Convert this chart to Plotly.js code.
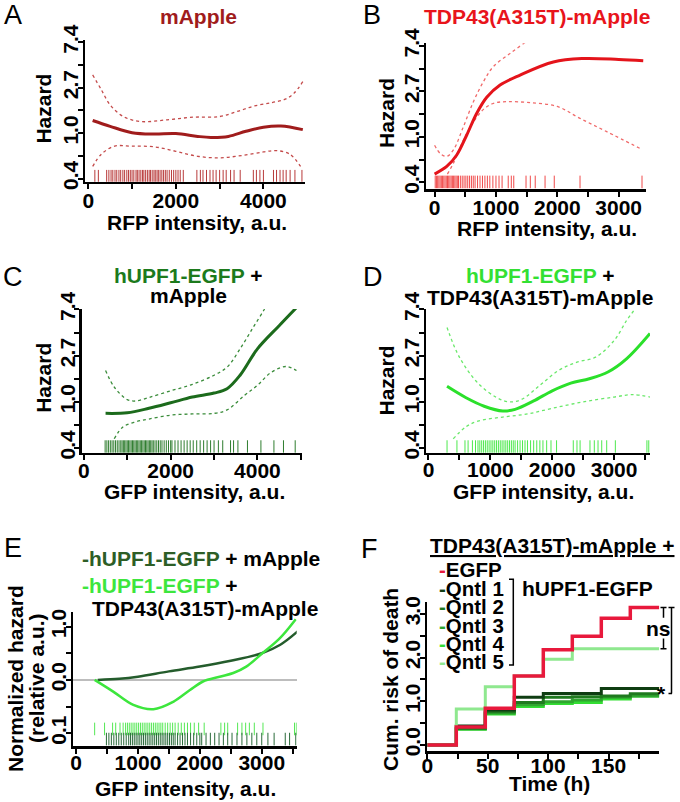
<!DOCTYPE html>
<html><head><meta charset="utf-8">
<script src="https://cdn.plot.ly/plotly-3.0.1.min.js"></script>
<style>html,body{margin:0;padding:0;background:#fff}</style>
</head><body><div id="chart" style="width:680px;height:802px"></div>
<script>
// ================= DATA =================
// Panel A: mApple — hazard vs RFP intensity
const aX   = [100, 500, 1000, 1500, 2000, 2500, 2800, 3200, 3600, 4000, 4400, 4900];
const aHaz = [1.32, 1.16, 1.01, 0.98, 0.99, 0.93, 0.91, 0.93, 1.04, 1.14, 1.17, 1.08];
const aUpX = [100, 300, 500, 800, 1200, 1800, 2400, 3000, 3400, 3800, 4200, 4500, 4700, 4900];
const aUp  = [3.6, 2.59, 1.86, 1.44, 1.29, 1.34, 1.42, 1.44, 1.61, 1.82, 1.96, 2.11, 2.41, 3.1];
const aLoX = [100, 300, 600, 1000, 1500, 2000, 2500, 3000, 3500, 4000, 4300, 4600, 4850];
const aLo  = [0.48, 0.63, 0.75, 0.75, 0.74, 0.67, 0.60, 0.58, 0.61, 0.66, 0.68, 0.63, 0.48];
const aRug = [150, 230, 420, 470, 520, 560, 610, 650, 700, 740, 790, 830, 880, 920, 960, 1000, 1040, 1090, 1120, 1160, 1200, 1240, 1270, 1310, 1350, 1390, 1420, 1460, 1500, 1530, 1570, 1600, 1640, 1680, 1720, 1760, 1800, 1850, 1900, 1950, 2000, 2050, 2100, 2170, 2480, 2560, 2620, 2700, 2780, 2850, 2920, 3000, 3080, 3150, 3250, 3330, 3470, 3770, 3840, 3920, 4000, 4230, 4300, 4380, 4450, 4520, 4610, 4720, 4880];

// Panel B: TDP43(A315T)-mApple — hazard vs RFP intensity
const bX   = [0, 198, 361, 524, 687, 850, 1067, 1393, 1935, 2400, 3000, 3400];
const bHaz = [0.44, 0.52, 0.67, 1.04, 1.68, 2.39, 3.13, 3.9, 5.2, 5.6, 5.5, 5.35];
const bUpX = [0, 94, 198, 307, 470, 633, 796, 958, 1250, 1500, 1600];
const bUp  = [0.83, 0.69, 0.65, 0.75, 1.25, 2.17, 3.37, 4.7, 6.4, 8.2, 9.0];
const bLoX = [209, 307, 470, 633, 796, 958, 1176, 1555, 2000, 2370, 2805, 3375];
const bLo  = [0.44, 0.56, 0.93, 1.39, 1.83, 2.09, 2.17, 2.12, 1.95, 1.5, 1.12, 0.76];
const bRug = [10, 30, 50, 70, 90, 110, 130, 150, 170, 190, 210, 230, 250, 270, 290, 310, 330, 350, 370, 390, 420, 450, 480, 510, 540, 570, 600, 630, 660, 700, 740, 780, 820, 860, 900, 950, 1000, 1050, 1100, 1200, 1250, 1290, 1490, 1560, 1640, 1800, 1950, 2370, 3380];

// Panel C: hUPF1-EGFP + mApple — hazard vs GFP intensity
const cX   = [500, 1000, 1500, 2000, 2500, 3000, 3300, 3600, 4000, 4500, 4900];
const cHaz = [0.78, 0.79, 0.87, 0.98, 1.11, 1.21, 1.33, 1.78, 3.15, 5.2, 7.7];
const cUpX = [500, 700, 1000, 1200, 1500, 2000, 2500, 3000, 3300, 3600, 3900, 4150, 4250];
const cUp  = [1.97, 1.38, 1.05, 1.02, 1.1, 1.27, 1.46, 1.78, 2.12, 3.15, 5.0, 7.3, 8.6];
const cLoX = [700, 900, 1200, 1500, 2000, 2500, 3000, 3300, 3700, 4000, 4300, 4650, 4900];
const cLo  = [0.45, 0.58, 0.65, 0.69, 0.75, 0.77, 0.78, 0.84, 1.15, 1.43, 1.87, 2.15, 1.97];
const cRug = [490, 530, 570, 610, 650, 690, 730, 770, 810, 850, 880, 910, 940, 970, 1000, 1030, 1060, 1090, 1120, 1150, 1180, 1210, 1240, 1270, 1300, 1330, 1360, 1390, 1420, 1450, 1480, 1510, 1540, 1570, 1600, 1640, 1680, 1720, 1760, 1800, 1850, 1900, 1950, 2000, 2030, 2100, 2170, 2240, 2310, 2380, 2450, 2520, 2600, 2680, 2760, 2840, 2920, 3000, 3100, 3200, 3380, 3450, 3550, 3770, 4080, 4380, 4600, 4870];

// Panel D: hUPF1-EGFP + TDP43(A315T)-mApple — hazard vs GFP intensity
const dX   = [300, 600, 900, 1200, 1400, 1700, 2000, 2300, 2600, 2900, 3200, 3580];
const dHaz = [1.4, 1.1, 0.91, 0.82, 0.85, 1.02, 1.27, 1.5, 1.65, 1.91, 2.54, 4.4];
const dUpX = [300, 500, 800, 1100, 1300, 1500, 1800, 2100, 2400, 2700, 3000, 3200, 3350, 3450];
const dUp  = [5.0, 2.63, 1.5, 1.1, 1.0, 1.05, 1.43, 1.97, 2.36, 2.63, 3.77, 5.8, 7.7, 10];
const dLoX = [400, 600, 800, 1200, 1600, 2000, 2500, 3000, 3300, 3580];
const dLo  = [0.45, 0.58, 0.66, 0.72, 0.77, 0.87, 1.0, 1.11, 1.17, 1.11];
const dRug = [300, 460, 590, 640, 710, 760, 800, 830, 860, 890, 920, 950, 980, 1010, 1040, 1070, 1100, 1130, 1160, 1190, 1220, 1250, 1280, 1310, 1340, 1370, 1400, 1440, 1480, 1520, 1560, 1600, 1650, 1700, 1750, 1800, 1850, 1910, 1980, 2070, 2340, 2400, 2450, 2610, 2680, 2740, 2800, 2880, 3020, 3530, 3560];

// Panel E: normalized hazard (relative a.u.)
const eMX  = [350, 700, 1000, 1500, 2000, 2500, 3000, 3300, 3580];
const eM   = [0.0, 0.02, 0.06, 0.16, 0.25, 0.36, 0.5, 0.66, 0.91];   // hUPF1-EGFP + mApple
const eTX  = [300, 600, 925, 1250, 1570, 1840, 2050, 2320, 2540, 2750, 3020, 3290, 3550];
const eT   = [0.0, -0.22, -0.47, -0.55, -0.41, -0.19, -0.03, 0.06, 0.13, 0.25, 0.51, 0.78, 1.14]; // hUPF1-EGFP + TDP43(A315T)-mApple

// Panel F: cumulative risk of death vs time
const fTime = [0, 24, 48, 72, 96, 120, 144, 168, 192];
const fEGFP = [0, 0.41, 0.84, 1.58, 2.18, 2.49, 2.90, 3.15, 3.15];
const fQ1   = [0, 0.43, 0.80, 1.09, 1.18, 1.18, 1.29, 1.29, 1.29];
const fQ2   = [0, 0.38, 0.76, 0.97, 1.09, 1.10, 1.12, 1.17, 1.17];
const fQ3   = [0, 0.37, 0.73, 0.92, 0.99, 1.03, 1.09, 1.12, 1.12];
const fQ4   = [0, 0.36, 0.71, 0.88, 0.95, 0.97, 1.05, 1.12, 1.12];
const fQ5   = [0, 0.82, 1.33, 1.58, 1.96, 2.20, 2.20, 2.20, 2.20];
const fNames = ['EGFP', 'Qntl 1', 'Qntl 2', 'Qntl 3', 'Qntl 4', 'Qntl 5'];

// ================= STYLE / LAYOUT =================
const W = 680, H = 802;
const px = x => x / W;
const py = y => 1 - y / H;
const FONT = 'Liberation Sans, Arial, Helvetica, sans-serif';
const FS = 21;

const C = {
  A: '#a01c1c', Aci: '#c44a4a', Arug: '#b83a3a',
  B: '#e4141b', Bci: '#f06a6a', Brug: '#f04a4a',
  Cc: '#1c6b1c', Cci: '#3a8c3a', Crug: '#2f7d2f',
  D: '#2be02b', Dci: '#6ae86a', Drug: '#4ee84e',
  Edark: '#245c2c', Ebright: '#3de63d',
  f: ['#e8193c', '#0f3d12', '#1f7a1f', '#2fa62f', '#33dd33', '#8fe88f']
};

const traces = [];
function line(x, y, ax, color, width, dash) {
  traces.push({x: x, y: y, xaxis: 'x' + ax, yaxis: 'y' + ax, type: 'scatter', mode: 'lines',
    line: {color: color, width: width, dash: dash || 'solid', shape: 'spline', smoothing: 1},
    hoverinfo: 'skip'});
}
function rug(x, ax, yval, color) {
  traces.push({x: x, y: x.map(() => yval), xaxis: 'x' + ax, yaxis: 'y' + ax, type: 'scatter', mode: 'markers',
    marker: {symbol: 'line-ns', size: 9, line: {color: color, width: 1}}, hoverinfo: 'skip'});
}

// A
line(aUpX, aUp, '', C.Aci, 1.3, 'dot');
line(aLoX, aLo, '', C.Aci, 1.3, 'dot');
line(aX, aHaz, '', C.A, 3);
rug(aRug, '', 0.387, C.Arug);
// B
line(bUpX, bUp, '2', C.Bci, 1.3, 'dot');
line(bLoX, bLo, '2', C.Bci, 1.3, 'dot');
line(bX, bHaz, '2', C.B, 3);
rug(bRug, '2', 0.37, C.Brug);
// C
line(cUpX, cUp, '3', C.Cci, 1.3, 'dot');
line(cLoX, cLo, '3', C.Cci, 1.3, 'dot');
line(cX, cHaz, '3', C.Cc, 3);
rug(cRug, '3', 0.38, C.Crug);
// D
line(dUpX, dUp, '4', C.Dci, 1.3, 'dot');
line(dLoX, dLo, '4', C.Dci, 1.3, 'dot');
line(dX, dHaz, '4', C.D, 3);
rug(dRug, '4', 0.38, C.Drug);
// E
line(eMX, eM, '5', C.Edark, 2.5);
line(eTX, eT, '5', C.Ebright, 2.5);
rug(dRug, '5', -0.92, '#55e855');
rug(cRug, '5', -1.11, '#2a6a3a');
// F (step curves)
const fSeries = [fEGFP, fQ1, fQ2, fQ3, fQ4, fQ5];
[4, 3, 2, 1, 5, 0].forEach(i => {
  traces.push({x: fTime, y: fSeries[i], xaxis: 'x6', yaxis: 'y6', type: 'scatter', mode: 'lines',
    line: {color: C.f[i], width: i === 0 ? 3.5 : 3, shape: 'hv'}, name: fNames[i], hoverinfo: 'skip'});
});

const tickFont = {family: FONT, size: FS, color: '#000', weight: 'bold'};
function xAx(l, r, range, tv, tt, anchor, standoff) {
  return {domain: [px(l), px(r)], range: range, anchor: anchor, showline: true, linecolor: '#000', linewidth: 2.5,
    ticks: 'outside', ticklen: 5, tickwidth: 2, tickcolor: '#000', tickvals: tv, ticktext: tt,
    ticklabelstandoff: standoff,
    showgrid: false, zeroline: false, tickfont: tickFont, fixedrange: true};
}
const lnT = [-1, -0.5, 0, 0.5, 1, 1.5, 2];
const lnTxt = ['0.4', '', '1.0', '', '2.7', '', '7.4'];
const Y_STANDOFF = -9;
function yLog(t, b, lnRange, anchor) {
  return {domain: [py(b), py(t)], type: 'log', range: lnRange.map(v => v / Math.LN10), anchor: anchor,
    showline: true, linecolor: '#000', linewidth: 2.5, ticks: 'outside', ticklen: 5, tickwidth: 2, tickcolor: '#000',
    tickvals: lnT.map(Math.exp), ticktext: lnTxt, tickangle: -90, ticklabelstandoff: Y_STANDOFF,
    showgrid: false, zeroline: false, tickfont: tickFont, fixedrange: true};
}

const layout = {
  width: W, height: H, margin: {l: 0, r: 0, t: 0, b: 0}, showlegend: false,
  paper_bgcolor: '#fff', plot_bgcolor: 'rgba(0,0,0,0)',
  font: {family: FONT, size: FS, color: '#000', weight: 'bold'},
  xaxis:  xAx(85, 305, [-75, 4950], [0, 1000, 2000, 3000, 4000], ['0', '', '2000', '', '4000'], 'y', -6),
  yaxis:  yLog(40, 181.7, [-1.07, 2.05], 'x'),
  xaxis2: xAx(426, 646, [-140, 3445], [0, 500, 1000, 1500, 2000, 2500, 3000], ['0', '', '1000', '', '2000', '', '3000'], 'y2', -7),
  yaxis2: yLog(43.3, 189, [-1.15, 2.06], 'x2'),
  xaxis3: xAx(81.7, 301.7, [-50, 5020], [0, 1000, 2000, 3000, 4000, 5000], ['0', '', '2000', '', '4000', ''], 'y3', -7),
  yaxis3: yLog(309, 452.7, [-1.10, 2.01], 'x3'),
  xaxis4: xAx(426, 650, [-40, 3580], [0, 500, 1000, 1500, 2000, 2500, 3000, 3500], ['0', '', '1000', '', '2000', '', '3000', ''], 'y4', -8),
  yaxis4: yLog(309, 452.7, [-1.10, 2.01], 'x4'),
  xaxis5: xAx(73.3, 296.7, [-45, 3565], [0, 500, 1000, 1500, 2000, 2500, 3000, 3500], ['0', '', '1000', '', '2000', '', '3000', ''], 'y5', -9),
  yaxis5: {domain: [py(746), py(611.7)], range: [-1.24, 1.28], anchor: 'x5', showline: true, linecolor: '#000', linewidth: 2.5,
    ticks: 'outside', ticklen: 5, tickwidth: 2, tickcolor: '#000', tickvals: [-1, -0.5, 0, 0.5, 1],
    ticktext: ['0.1', '', '0.0', '', '1.0'], tickangle: -90, ticklabelstandoff: Y_STANDOFF, showgrid: false,
    zeroline: true, zerolinecolor: '#bdbdbd', zerolinewidth: 2.5, tickfont: tickFont, fixedrange: true},
  xaxis6: xAx(427.3, 659.3, [0, 192], [0, 25, 50, 75, 100, 125, 150, 175], ['0', '', '50', '', '100', '', '150', ''], 'y6', -11),
  yaxis6: {domain: [py(751), py(601.7)], range: [-0.14, 3.28], anchor: 'x6', showline: true, linecolor: '#000', linewidth: 2.5,
    ticks: 'outside', ticklen: 5, tickwidth: 2, tickcolor: '#000', tickvals: [0, 0.5, 1, 1.5, 2, 2.5, 3],
    ticktext: ['0.0', '', '1.0', '', '2.0', '', '3.0'], tickangle: -90, ticklabelstandoff: Y_STANDOFF,
    showgrid: false, zeroline: false, tickfont: tickFont, fixedrange: true},
  annotations: [], shapes: []
};

function ann(text, x, y, o) {
  o = o || {};
  layout.annotations.push(Object.assign({text: text, x: px(x), y: py(y), xref: 'paper', yref: 'paper',
    showarrow: false, xanchor: 'center', yanchor: 'middle',
    font: {family: FONT, size: FS, color: '#000', weight: 'bold'}}, o));
}
const letterFont = {family: FONT, size: 27, color: '#000', weight: 'normal'};
// panel letters
[['A', 13, 15], ['B', 372, 15], ['C', 12.5, 277], ['D', 372.5, 277], ['E', 13, 548], ['F', 369, 549]]
  .forEach(l => ann(l[0], l[1], l[2], {font: letterFont}));

// panel titles
ann('mApple', 198, 17, {font: {family: FONT, size: FS, color: C.A, weight: 'bold'}});
ann('TDP43(A315T)-mApple', 537, 17, {font: {family: FONT, size: FS, color: '#e8141b', weight: 'bold'}});
ann("<span style='color:#1c7a1c'>hUPF1-EGFP</span> +", 188, 275);
ann('mApple', 188, 295.5);
ann("<span style='color:#33e033'>hUPF1-EGFP</span> +", 540, 275);
ann('TDP43(A315T)-mApple', 540, 297);
ann("<span style='color:#2d5e26'>-hUPF1-EGFP</span> + mApple", 80, 558, {xanchor: 'left'});
ann("<span style='color:#3de63d'>-hUPF1-EGFP</span> +", 80, 585, {xanchor: 'left'});
ann('TDP43(A315T)-mApple', 90, 608.5, {xanchor: 'left'});

// axis titles
ann('Hazard', 43.3, 108.3, {textangle: -90});
ann('RFP intensity, a.u.', 197, 223);
ann('Hazard', 386.7, 113.3, {textangle: -90});
ann('RFP intensity, a.u.', 546.7, 228);
ann('Hazard', 43.3, 377.5, {textangle: -90});
ann('GFP intensity, a.u.', 194, 491.5);
ann('Hazard', 386.7, 380.8, {textangle: -90});
ann('GFP intensity, a.u.', 543.3, 491.5);
ann('Normalized hazard', 15, 679, {textangle: -90});
ann('(relative a.u.)', 36, 678, {textangle: -90});
ann('GFP intensity, a.u.', 185.8, 788);
ann('Cum. risk of death', 390, 680, {textangle: -90});
ann('Time (h)', 549, 783.5);

// F legend
ann('<u>TDP43(A315T)-mApple +</u>', 551.5, 545);
const rowY = [569, 588, 606.7, 625, 643.3, 661.7];
fNames.forEach((n, i) => ann("<span style='color:" + C.f[i] + "'>-</span>" + n, 437, rowY[i],
  {xanchor: 'left', font: {family: FONT, size: 20.5, color: '#000', weight: 'bold'}}));
ann('hUPF1-EGFP', 520, 588, {xanchor: 'left'});
layout.shapes.push({type: 'path', xref: 'paper', yref: 'paper', line: {color: '#000', width: 1.5},
  path: `M ${px(509)} ${py(579.3)} L ${px(513.3)} ${py(579.3)} L ${px(513.3)} ${py(665)} L ${px(509)} ${py(665)}`});

// F significance brackets (from series end values)
const eEnd = fEGFP[fEGFP.length - 1], q5End = fQ5[fQ5.length - 1];
const qEnds = [fQ1, fQ2, fQ3, fQ4].map(s => s[s.length - 1]);
const qMean = qEnds.reduce((a, b) => a + b, 0) / qEnds.length;
const nsMid = (eEnd + q5End) / 2;
const bx1 = px(663.5), bx2 = px(671.5);
const sh = (x0, y0, x1, y1) => layout.shapes.push({type: 'line', xref: 'paper', yref: 'y6', x0: x0, y0: y0, x1: x1, y1: y1,
  line: {color: '#000', width: 1.5}});
sh(bx1, eEnd, bx1, nsMid + 0.24);
sh(bx1, nsMid - 0.24, bx1, q5End);
sh(px(660.5), eEnd, px(666.5), eEnd);
sh(px(660.5), q5End, px(666.5), q5End);
sh(bx2, eEnd, bx2, qMean);
sh(px(668.5), eEnd, px(674.5), eEnd);
sh(px(668.5), qMean, px(672), qMean);
layout.annotations.push({text: 'ns', x: px(658.5), y: nsMid, xref: 'paper', yref: 'y6', showarrow: false,
  xanchor: 'center', yanchor: 'middle', font: {family: FONT, size: FS, color: '#000', weight: 'bold'}});
layout.annotations.push({text: '*', x: px(661.5), y: qMean, xref: 'paper', yref: 'y6', showarrow: false,
  xanchor: 'center', yanchor: 'middle', font: {family: FONT, size: FS, color: '#000', weight: 'bold'}});

Plotly.newPlot('chart', traces, layout, {staticPlot: true, displayModeBar: false});
</script>
</body></html>
